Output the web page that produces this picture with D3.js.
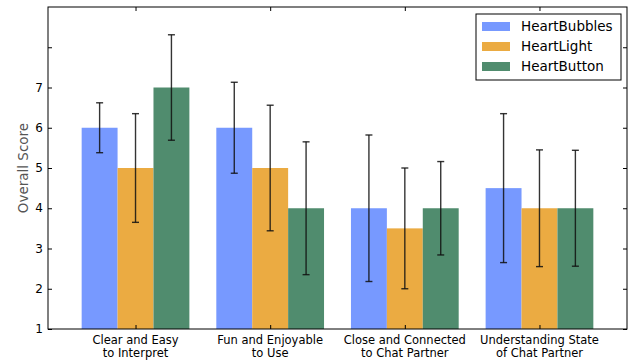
<!DOCTYPE html>
<html><head><meta charset="utf-8">
<script src="https://cdn.jsdelivr.net/npm/d3@7"></script>
<style>body{margin:0;background:#fff}svg{display:block;font-family:"DejaVu Sans",sans-serif}</style>
</head><body>
<svg id="c" width="633" height="360"></svg>
<script>
const categories = [["Clear and Easy","to Interpret"],["Fun and Enjoyable","to Use"],["Close and Connected","to Chat Partner"],["Understanding State","of Chat Partner"]];
const seriesNames = ["HeartBubbles","HeartLight","HeartButton"];
const heartBubbles = [6, 6, 4, 4.5];
const heartLight = [5, 5, 3.5, 4];
const heartButton = [7, 4, 4, 4];
const errBubbles = [0.62, 1.13, 1.82, 1.85];
const errLight = [1.35, 1.56, 1.5, 1.45];
const errButton = [1.31, 1.65, 1.16, 1.44];
const yTicks = [1,2,3,4,5,6,7,8];
const yTickLabels = ["1","2","3","4","5","6","7",""];
const colors = ["#7799ff","#ebab42","#508c6e"];

const values = [heartBubbles, heartLight, heartButton];
const errs = [errBubbles, errLight, errButton];
const svg = d3.select("#c");
const L=48, R=627, T=7, B=329;
const x = d3.scaleLinear().domain([-0.65, 3.65]).range([L, R]);
const y = d3.scaleLinear().domain([1, 9]).range([B, T]);
const bw = 0.8/3;

const g = svg.append("g");
values.forEach((vals, s) => {
  g.selectAll(null).data(vals).enter().append("rect")
    .attr("x", (d,i) => x(i - 0.4 + s*bw))
    .attr("width", x(bw) - x(0))
    .attr("y", d => y(d))
    .attr("height", d => y(1) - y(d))
    .attr("fill", colors[s]);
});
values.forEach((vals, s) => {
  vals.forEach((v,i) => {
    const cx = x(i - 0.4 + (s+0.5)*bw);
    const e = errs[s][i];
    const eg = g.append("g").attr("stroke","#111").attr("stroke-opacity",0.85).attr("stroke-width",1.4);
    eg.append("line").attr("x1",cx).attr("x2",cx).attr("y1",y(v+e)).attr("y2",y(v-e));
    eg.append("line").attr("x1",cx-3.5).attr("x2",cx+3.5).attr("y1",y(v+e)).attr("y2",y(v+e));
    eg.append("line").attr("x1",cx-3.5).attr("x2",cx+3.5).attr("y1",y(v-e)).attr("y2",y(v-e));
  });
});

// frame
svg.append("rect").attr("x",L).attr("y",T).attr("width",R-L).attr("height",B-T)
  .attr("fill","none").attr("stroke","#000").attr("stroke-width",1);

// y axis ticks inward on left and right
const yl = svg.append("g").attr("transform",`translate(${L},0)`)
  .call(d3.axisRight(y).tickValues(yTicks).tickSize(4).tickFormat(""));
yl.select(".domain").remove();
const yr = svg.append("g").attr("transform",`translate(${R},0)`)
  .call(d3.axisLeft(y).tickValues(yTicks).tickSize(4).tickFormat(""));
yr.select(".domain").remove();
svg.selectAll(null).data(yTicks).enter().append("text")
  .attr("x", L-5).attr("y", d=>y(d)).attr("dy","0.35em").attr("text-anchor","end")
  .attr("font-size",12).attr("fill","#000").text((d,i)=>yTickLabels[i]);

// x ticks inward bottom/top
const xb = svg.append("g").attr("transform",`translate(0,${B})`)
  .call(d3.axisTop(x).tickValues([0,1,2,3]).tickSize(4).tickFormat(""));
xb.select(".domain").remove();
const xt = svg.append("g").attr("transform",`translate(0,${T})`)
  .call(d3.axisBottom(x).tickValues([0,1,2,3]).tickSize(4).tickFormat(""));
xt.select(".domain").remove();
svg.selectAll(".tick line").attr("stroke","#000");

categories.forEach((c,i) => {
  const t = svg.append("text").attr("x",x(i)).attr("y",B+15).attr("text-anchor","middle")
    .attr("font-size",11.5).attr("fill","#000");
  t.append("tspan").attr("x",x(i)).attr("dy",0).text(c[0]);
  t.append("tspan").attr("x",x(i)).attr("dy",13).text(c[1]);
});

svg.append("text").attr("transform",`translate(28,${(T+B)/2}) rotate(-90)`)
  .attr("text-anchor","middle").attr("font-size",13.5).attr("fill","#555").text("Overall Score");

// legend
const lg = svg.append("g");
lg.append("rect").attr("x",476).attr("y",14).attr("width",145).attr("height",66)
  .attr("fill","#fff").attr("stroke","#000").attr("stroke-width",1);
seriesNames.forEach((n,i) => {
  lg.append("rect").attr("x",482).attr("y",22+i*20).attr("width",28).attr("height",9).attr("fill",colors[i]);
  lg.append("text").attr("x",521).attr("y",26.5+i*20).attr("dy","0.35em").attr("font-size",13.5).attr("fill","#000").text(n);
});
</script>
</body></html>
